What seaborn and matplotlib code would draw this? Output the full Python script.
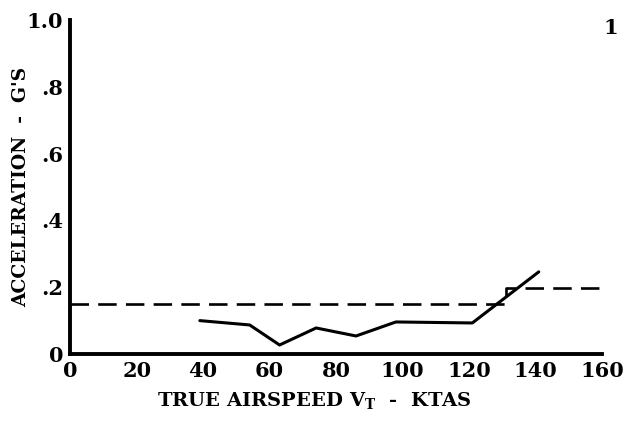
import matplotlib
matplotlib.use("Agg")
import matplotlib.pyplot as plt
import seaborn as sns
import pandas as pd

# Measured acceleration vs true airspeed
airspeed_ktas = [39, 54, 63, 74, 86, 98, 121, 141]
accel_g = [0.10, 0.087, 0.027, 0.078, 0.054, 0.096, 0.093, 0.246]

# Limit boundary (dashed)
limit_ktas = [0, 131, 131, 160]
limit_g = [0.15, 0.15, 0.197, 0.197]

x_ticks = [0, 20, 40, 60, 80, 100, 120, 140, 160]
y_ticks = [0, 0.2, 0.4, 0.6, 0.8, 1.0]
y_tick_labels = ["0", ".2", ".4", ".6", ".8", "1.0"]

sns.set_theme(style="white")
plt.rcParams["font.family"] = ["DejaVu Serif"]
plt.rcParams["font.weight"] = "bold"
plt.rcParams["mathtext.fontset"] = "custom"
plt.rcParams["mathtext.bf"] = "DejaVu Serif:bold"
plt.rcParams["mathtext.rm"] = "DejaVu Serif:bold"

fig = plt.figure(figsize=(6.27, 4.25), dpi=100)
ax = fig.add_axes([0.112, 0.167, 0.848, 0.786])

meas = pd.DataFrame({"v": airspeed_ktas, "a": accel_g})
lim = pd.DataFrame({"v": limit_ktas, "a": limit_g})

sns.lineplot(data=lim, x="v", y="a", ax=ax, color="black", lw=1.9,
             linestyle=(0, (7, 3.5)), sort=False, estimator=None)
sns.lineplot(data=meas, x="v", y="a", ax=ax, color="black", lw=2.2,
             sort=False, estimator=None)

ax.set_xlim(0, 160)
ax.set_ylim(0, 1.0)
ax.set_xticks(x_ticks)
ax.set_xticklabels([str(t) for t in x_ticks], fontsize=15, fontweight="bold")
ax.set_yticks(y_ticks)
ax.set_yticklabels(y_tick_labels, fontsize=15, fontweight="bold")
ax.tick_params(axis="x", length=0, pad=5, colors="black")
ax.tick_params(axis="y", length=0, pad=5, colors="black")

for side in ["top", "right"]:
    ax.spines[side].set_visible(False)
for side in ["left", "bottom"]:
    ax.spines[side].set_color("black")
    ax.spines[side].set_linewidth(2.8)

ax.set_xlabel(r"TRUE AIRSPEED V$_{\mathrm{T}}$  -  KTAS", fontsize=14,
              fontweight="bold", color="black")
ax.xaxis.set_label_coords(0.459, -0.11)
ax.set_ylabel("ACCELERATION  -  G'S", fontsize=13.5, fontweight="bold",
              color="black")
ax.yaxis.set_label_coords(-0.076, 0.5)

fig.text(0.985, 0.935, "1", fontsize=15, fontweight="bold", ha="right",
         va="center", color="black")

fig.savefig("out.png", dpi=100, facecolor="white")
